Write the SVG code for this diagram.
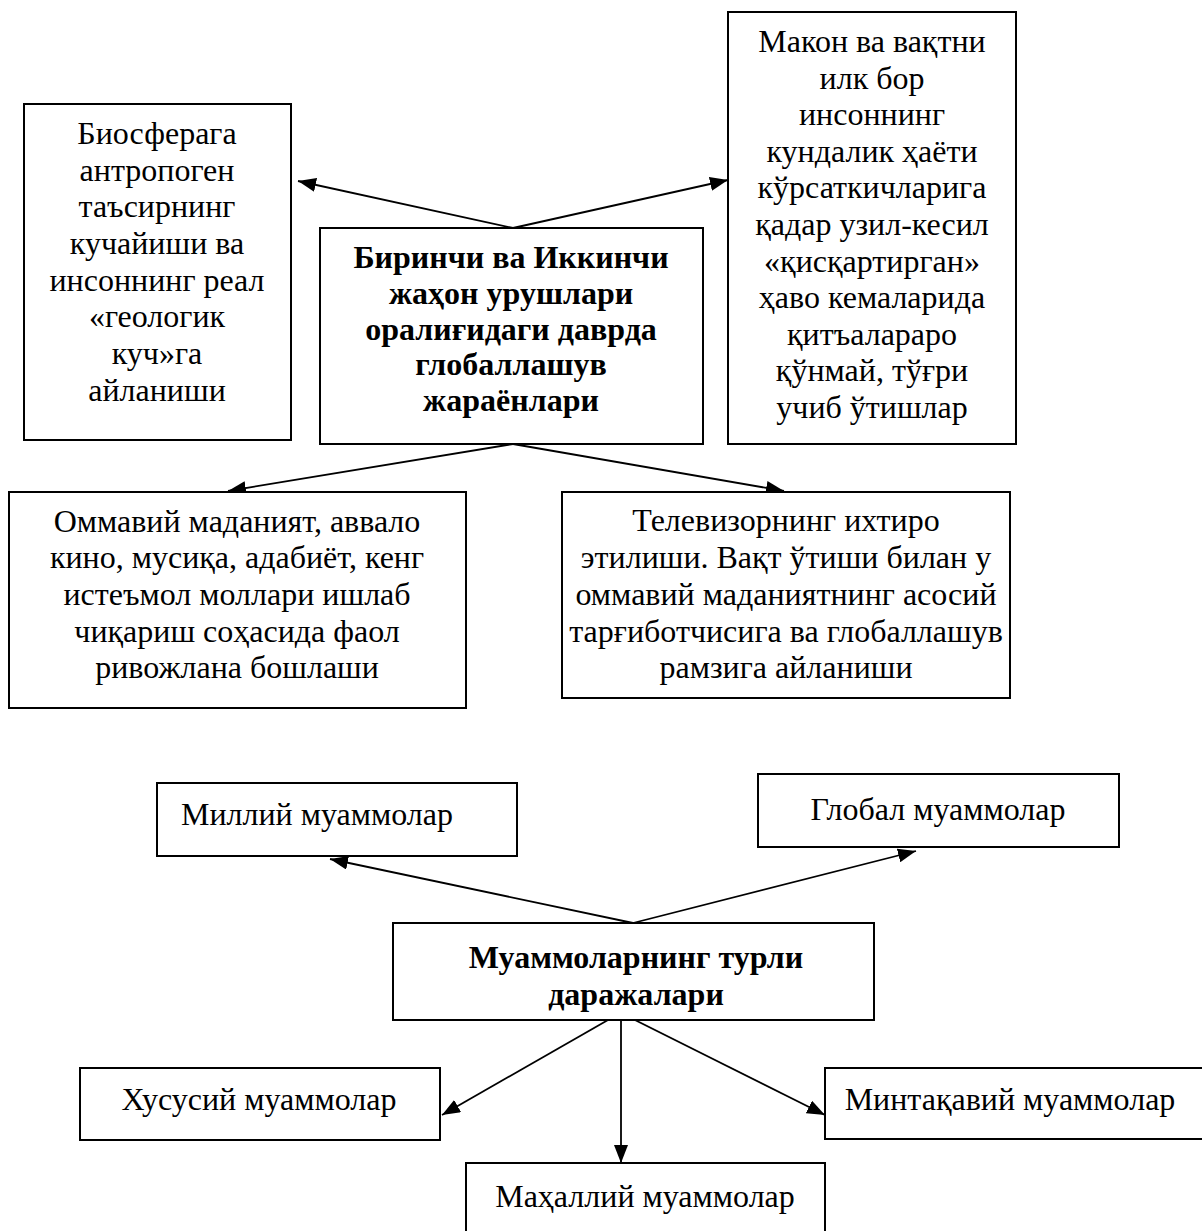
<svg xmlns="http://www.w3.org/2000/svg" width="1202" height="1231" viewBox="0 0 1202 1231">
<style>
.box{fill:#fff;stroke:#000;stroke-width:2}
.t{font-family:"Liberation Serif","Times New Roman",serif;font-size:32px;fill:#000;text-anchor:middle}
.b{font-weight:bold}
.c{stroke:#000;stroke-width:1.8;fill:none;marker-end:url(#ah)}
</style>
<defs>
<marker id="ah" viewBox="0 0 18 14" refX="18" refY="7" markerWidth="18" markerHeight="14" markerUnits="userSpaceOnUse" orient="auto">
<path d="M0,0 L18,7 L0,14 Z" fill="#000"/>
</marker>
</defs>
<rect width="1202" height="1231" fill="#fff"/>
<g id="connectors">
<line class="c" x1="513" y1="228" x2="298" y2="181"/>
<line class="c" x1="513" y1="228" x2="728" y2="180"/>
<line class="c" x1="513" y1="444" x2="228" y2="491"/>
<line class="c" x1="513" y1="444" x2="784" y2="491"/>
<line class="c" x1="633" y1="923" x2="330" y2="859"/>
<line class="c" x1="633" y1="923" x2="916" y2="851"/>
<line class="c" x1="608" y1="1020" x2="442" y2="1115"/>
<line class="c" x1="621" y1="1020" x2="621" y2="1163"/>
<line class="c" x1="635" y1="1020" x2="825" y2="1115"/>
</g>
<g id="n-bio">
<rect class="box" x="24" y="104" width="267" height="336"/>
<text class="t"><tspan x="157" y="144">Биосферага</tspan><tspan x="157" y="181">антропоген</tspan><tspan x="157" y="217">таъсирнинг</tspan><tspan x="157" y="254">кучайиши ва</tspan><tspan x="157" y="291">инсоннинг реал</tspan><tspan x="157" y="327">«геологик</tspan><tspan x="157" y="364">куч»га</tspan><tspan x="157" y="401">айланиши</tspan></text>
</g>
<g id="n-main">
<rect class="box" x="320" y="228" width="383" height="216"/>
<text class="t b"><tspan x="511" y="268">Биринчи ва Иккинчи</tspan><tspan x="511" y="304">жаҳон урушлари</tspan><tspan x="511" y="340">оралиғидаги даврда</tspan><tspan x="511" y="375">глобаллашув</tspan><tspan x="511" y="411">жараёнлари</tspan></text>
</g>
<g id="n-makon">
<rect class="box" x="728" y="12" width="288" height="432"/>
<text class="t"><tspan x="872" y="52">Макон ва вақтни</tspan><tspan x="872" y="89">илк бор</tspan><tspan x="872" y="125">инсоннинг</tspan><tspan x="872" y="162">кундалик ҳаёти</tspan><tspan x="872" y="198">кўрсаткичларига</tspan><tspan x="872" y="235">қадар узил-кесил</tspan><tspan x="872" y="272">«қисқартирган»</tspan><tspan x="872" y="308">ҳаво кемаларида</tspan><tspan x="872" y="345">қитъалараро</tspan><tspan x="872" y="381">қўнмай, тўғри</tspan><tspan x="872" y="418">учиб ўтишлар</tspan></text>
</g>
<g id="n-ommaviy">
<rect class="box" x="9" y="492" width="457" height="216"/>
<text class="t"><tspan x="237" y="532">Оммавий маданият, аввало</tspan><tspan x="237" y="568">кино, мусиқа, адабиёт, кенг</tspan><tspan x="237" y="605">истеъмол моллари ишлаб</tspan><tspan x="237" y="642">чиқариш соҳасида фаол</tspan><tspan x="237" y="678">ривожлана бошлаши</tspan></text>
</g>
<g id="n-tv">
<rect class="box" x="562" y="492" width="448" height="206"/>
<text class="t"><tspan x="786" y="531">Телевизорнинг ихтиро</tspan><tspan x="786" y="568">этилиши. Вақт ўтиши билан у</tspan><tspan x="786" y="605">оммавий маданиятнинг асосий</tspan><tspan x="786" y="642">тарғиботчисига ва глобаллашув</tspan><tspan x="786" y="678">рамзига айланиши</tspan></text>
</g>
<g id="n-milliy">
<rect class="box" x="157" y="783" width="360" height="73"/>
<text class="t" x="317" y="825">Миллий муаммолар</text>
</g>
<g id="n-global">
<rect class="box" x="758" y="774" width="361" height="73"/>
<text class="t" x="938" y="820">Глобал муаммолар</text>
</g>
<g id="n-levels">
<rect class="box" x="393" y="923" width="481" height="97"/>
<text class="t b"><tspan x="636" y="968">Муаммоларнинг турли</tspan><tspan x="636" y="1005">даражалари</tspan></text>
</g>
<g id="n-xususiy">
<rect class="box" x="80" y="1068" width="360" height="72"/>
<text class="t" x="259" y="1110">Хусусий муаммолар</text>
</g>
<g id="n-mintaqaviy">
<rect class="box" x="825" y="1068" width="390" height="71"/>
<text class="t" x="1010" y="1110">Минтақавий муаммолар</text>
</g>
<g id="n-mahalliy">
<rect class="box" x="466" y="1163" width="359" height="80"/>
<text class="t" x="645" y="1207">Маҳаллий муаммолар</text>
</g>
</svg>
